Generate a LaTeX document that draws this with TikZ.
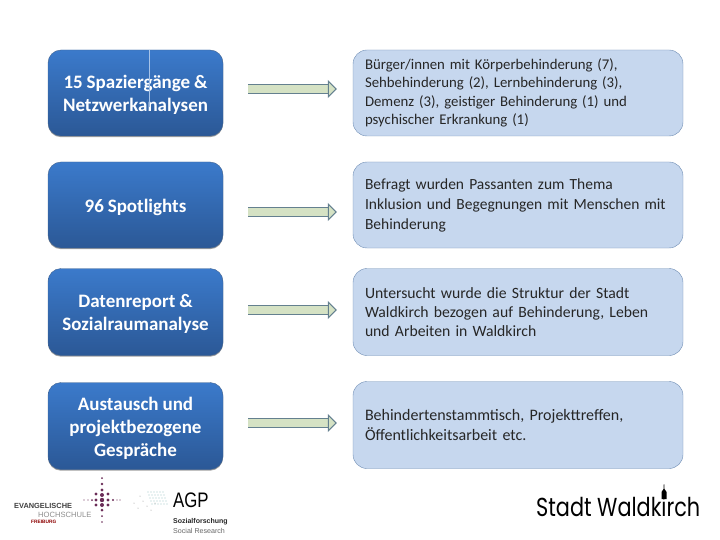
\documentclass[tikz,border=0pt]{standalone}
\usepackage{fontspec}
\setmainfont{Carlito}[WordSpace=.9]
\newfontfamily\logofont{Liberation Sans}
\newfontfamily\agpfont{Liberation Sans}[FakeStretch=.8]
\newfontfamily\stadtfont{Poppins}[FakeStretch=.8]
\usetikzlibrary{positioning,fit,calc,shadows,arrows.meta}
\newcommand{\firstline}{\rule{0pt}{17.5pt}}
\definecolor{boxtop}{HTML}{3B7ACB}
\definecolor{boxbot}{HTML}{2B5896}
\definecolor{noteblue}{HTML}{C6D7EE}
\definecolor{noteline}{HTML}{6F8DB3}
\definecolor{arrowfill}{HTML}{D5E2C4}
\definecolor{arrowline}{HTML}{64808F}
\definecolor{crossdot}{HTML}{6A2C57}
\definecolor{agpdot}{HTML}{7FB5B5}
\tikzset{
  methodbox/.style={rectangle, rounded corners=13pt, minimum width=175pt, inner sep=0pt,
    top color=boxtop, bottom color=boxbot, draw=boxbot!70!gray, align=center, text=white,
    general shadow={shadow yshift=-1.2pt, fill=gray!75},
    font=\bfseries\fontsize{19}{22.8}\selectfont},
  notebox/.style={rectangle, rounded corners=14pt, minimum width=330pt, text width=306pt,
    inner xsep=12pt, inner ysep=0pt, fill=noteblue, draw=noteline, align=left, text=black!85,
    font=\fontsize{15.5}{20}\selectfont},
  blockarrow/.style={draw=arrowline, line width=1pt, double=arrowfill, double distance=7.5pt,
    shorten <=25pt, shorten >=16pt,
    -{Triangle[length=9pt, width=18pt, fill=arrowfill]}},
  logotext/.style={inner sep=0pt, anchor=west, font=\logofont}
}
\begin{document}
\begin{tikzpicture}[x=1pt, y=-1pt]
  \useasboundingbox (0,0) rectangle (720,540);
  % left column
  \node (l1) [methodbox, minimum height=86pt] at (135.5,93) {\firstline 15 Spaziergänge \&\\Netzwerkanalysen};
  \node (l2) [methodbox, minimum height=86pt] at (135.5,205) {\firstline 96 Spotlights};
  \node (l3) [methodbox, minimum height=87pt] at (135.5,312) {\firstline Datenreport \&\\Sozialraumanalyse};
  \node (l4) [methodbox, minimum height=87pt] at (135.5,426) {\firstline Austausch und\\projektbezogene\\Gespräche};
  % right column
  \node (r1) [notebox, minimum height=86pt, font=\fontsize{14.8}{18.3}\selectfont] at (518,93)
    {Bürger/innen mit Körperbehinderung (7),\\Sehbehinderung (2), Lernbehinderung (3),\\Demenz (3), geistiger Behinderung (1) und\\psychischer Erkrankung (1)};
  \node (r2) [notebox, minimum height=86pt] at (518,205)
    {Befragt wurden Passanten zum Thema\\Inklusion und Begegnungen mit Menschen mit\\Behinderung};
  \node (r3) [notebox, minimum height=87pt, font=\fontsize{15.7}{18.8}\selectfont] at (518,312)
    {Untersucht wurde die Struktur der Stadt\\Waldkirch bezogen auf Behinderung, Leben\\und Arbeiten in Waldkirch};
  \node (r4) [notebox, minimum height=87pt, font=\fontsize{16}{20}\selectfont] at (518,425)
    {Behindertenstammtisch, Projekttreffen,\\Öffentlichkeitsarbeit etc.};
  \foreach \row/\dy in {1/4pt, 2/-7pt, 3/2pt, 4/3pt}
    \draw [blockarrow] ([yshift=\dy]l\row.east) -- ([yshift=\dy]l\row.east -| r\row.west);
  % thin line in the first box
  \coordinate (seamtop) at (149,50);
  \coordinate (seambot) at (149,107);
  \draw [white!55!boxtop, line width=.5pt] (seamtop) -- (seambot);
  % logos
  \node (ehtop) [logotext, font=\logofont\bfseries\fontsize{7.4}{8}\selectfont, text=black!75] at (14,506) {EVANGELISCHE};
  \node (ehmid) [logotext, font=\logofont\fontsize{7.6}{8}\selectfont, text=black!45] at (38,515) {HOCHSCHULE};
  \node (ehbot) [logotext, font=\logofont\bfseries\fontsize{4.8}{5}\selectfont, text=red!55!black] at (31,522) {FREIBURG};
  \foreach \dy/\sz in {478/1, 484/1.3, 490/1.7, 495/2, 500/2.2, 505/2, 510/1.5, 516/1, 522/.9}
    \fill [crossdot] (102,\dy) circle (\sz);
  \foreach \dx/\sz in {84/.6, 88/.7, 92/1, 96/1.6, 108/1.6, 113/1.1, 117/.7, 120/.6}
    \fill [crossdot] (\dx,500) circle (\sz);
  \foreach \dx/\dy in {96/494, 108/494, 96/505, 108/505}
    \fill [crossdot] (\dx,\dy) circle (1.7);
  \foreach \dx in {148,151,...,163}
    \foreach \dy in {492,495,...,504}
      \fill [agpdot, opacity=.75] (\dx+\dy/3-164,\dy) circle (.7);
  \foreach \dx/\dy in {134/503, 138/508, 143/501, 147/506, 151/510, 140/496, 155/503}
    \fill [black!45] (\dx,\dy) circle (.5);
  \node (agp) [logotext, font=\agpfont\fontsize{21}{21}\selectfont, text=black] at (173,500) {AGP};
  \node (agptop) [logotext, font=\logofont\bfseries\fontsize{7}{6}\selectfont, text=black!85] at (173,522) {Sozialforschung};
  \node (agpbot) [logotext, font=\logofont\fontsize{7.1}{6}\selectfont, text=black!60] at (173,531) {Social Research};
  \node (stadt) [logotext, font=\stadtfont\fontsize{26}{26}\selectfont, text=black] at (536,507) {Stadt Waldkirch};
  \coordinate (towerbase) at (664,499);
  \fill [black] (towerbase) ++(-2.5,0) -- ++(0,-7) -- ++(2,-3) -- ++(.3,-5) -- ++(.4,0) -- ++(.3,5) -- ++(2,3) -- ++(0,7) -- cycle;
\end{tikzpicture}
\end{document}
